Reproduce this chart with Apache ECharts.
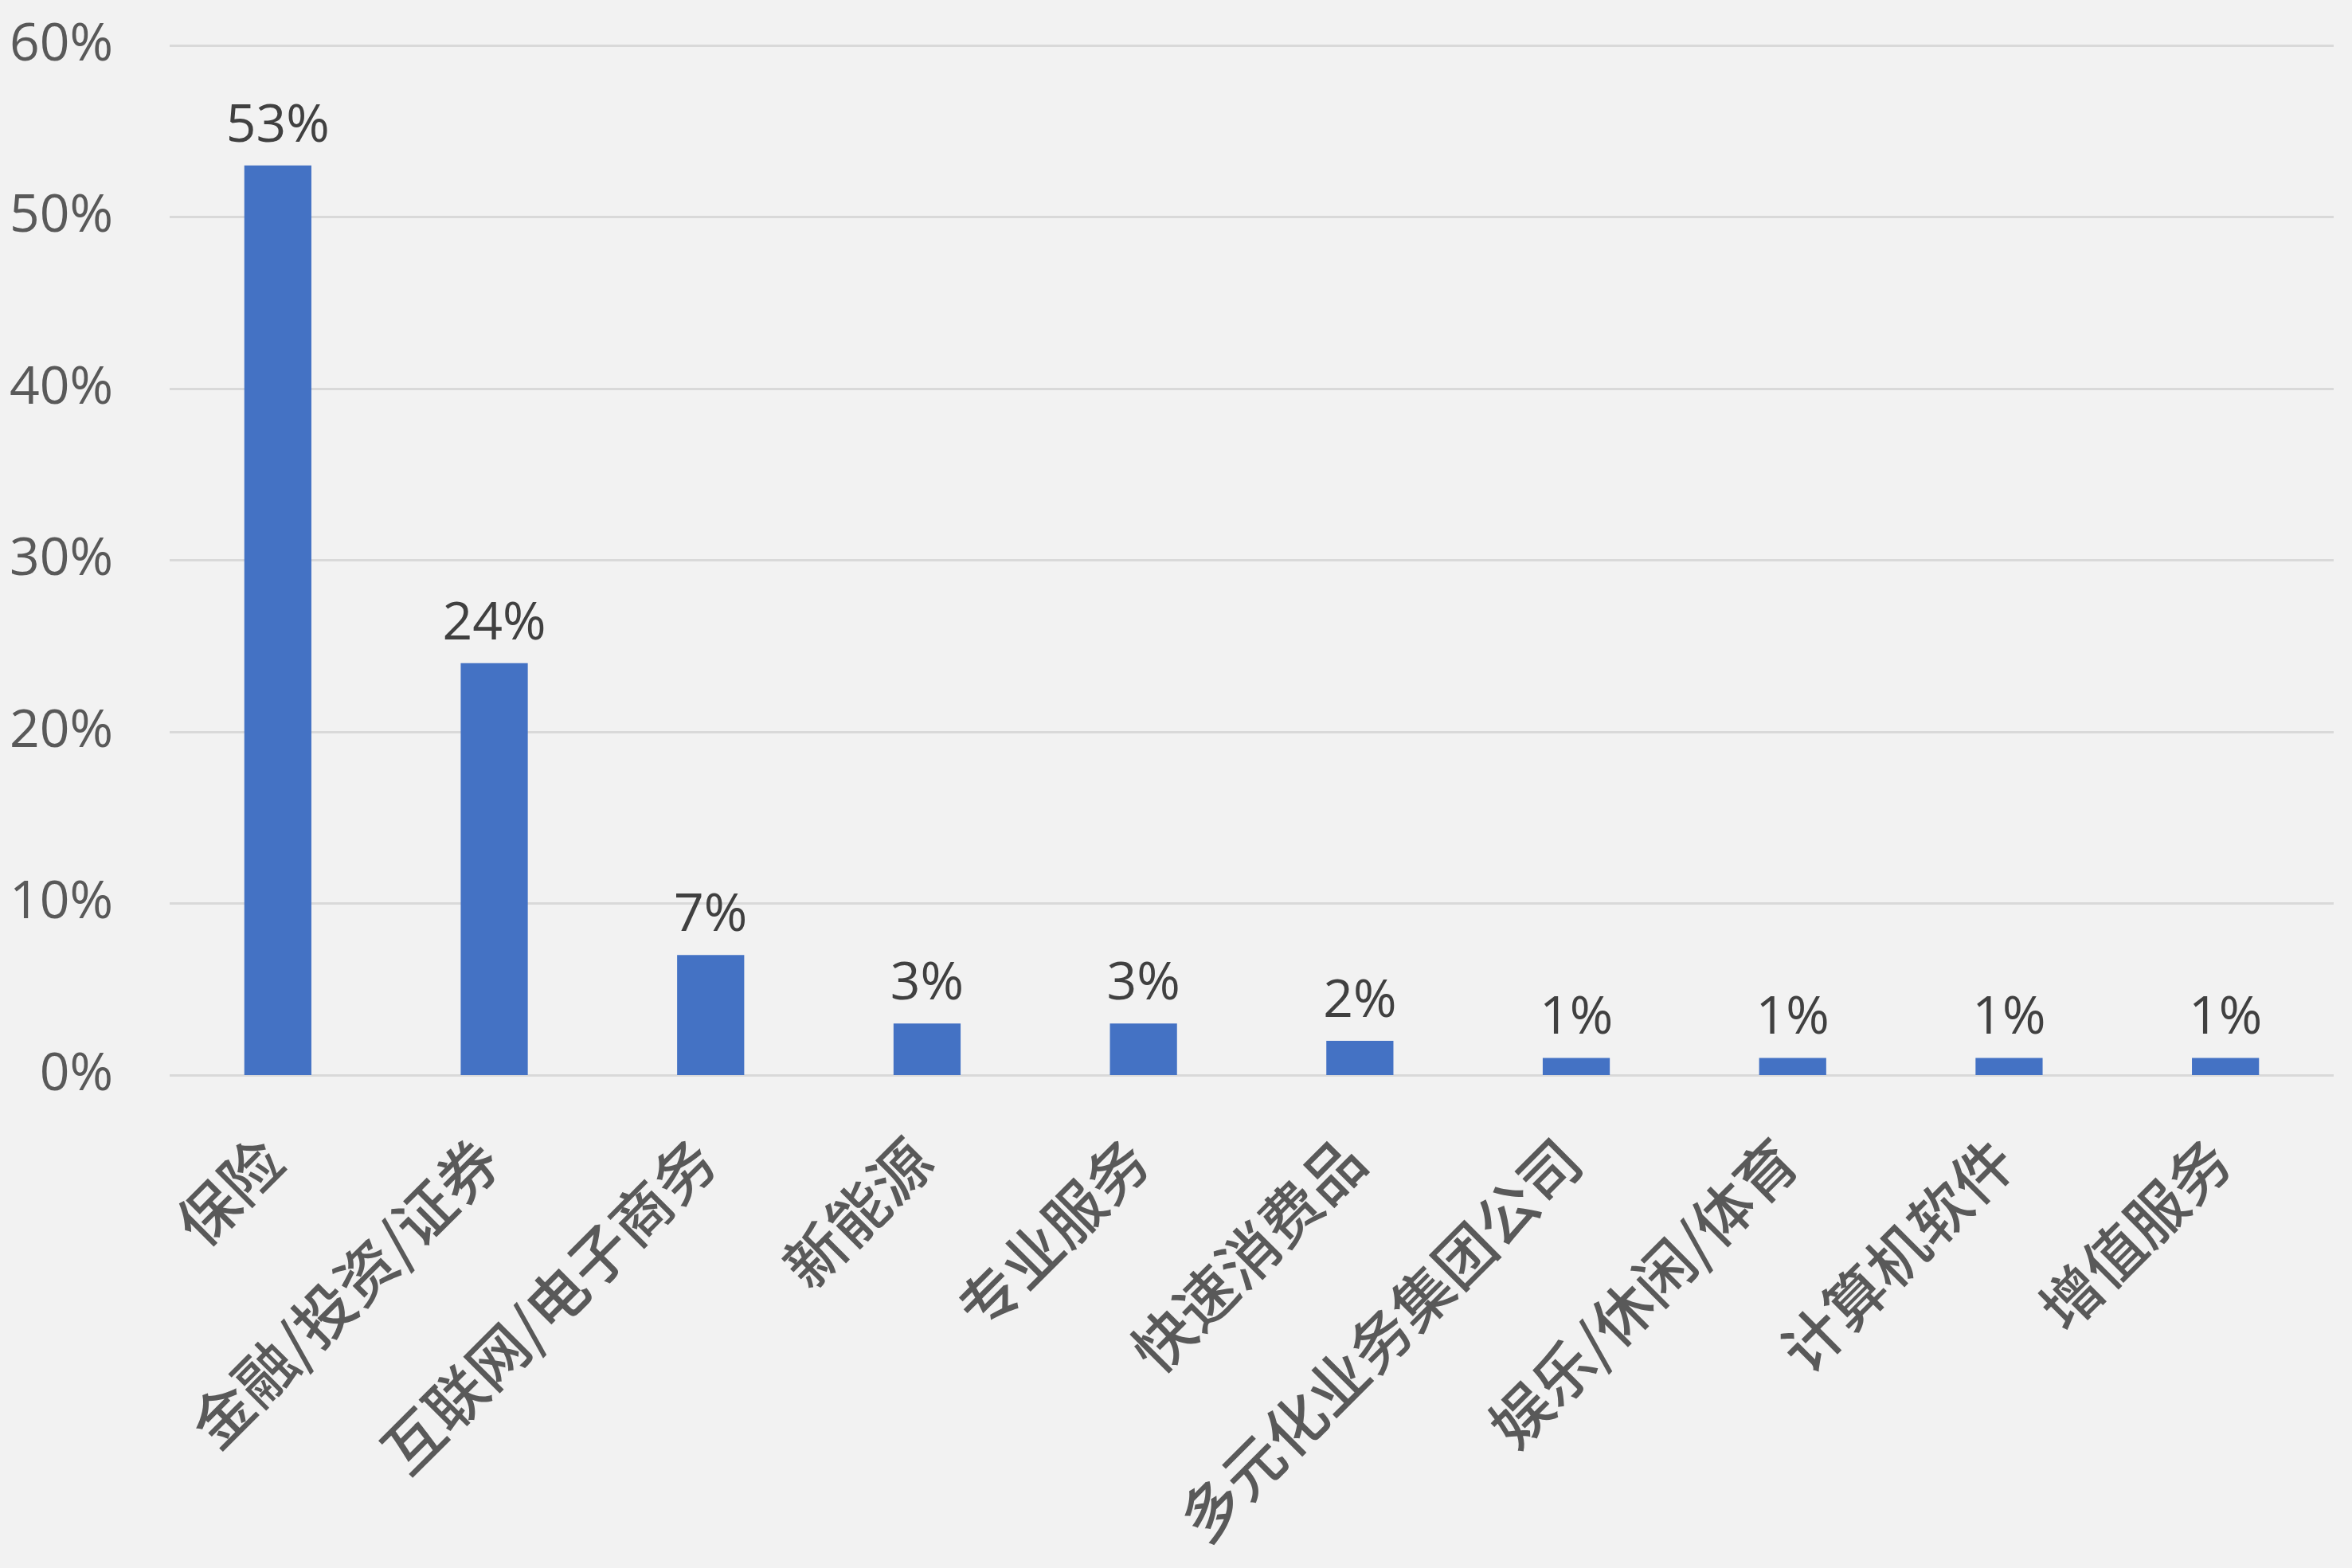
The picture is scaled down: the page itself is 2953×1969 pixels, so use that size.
<!DOCTYPE html>
<html><head><meta charset="utf-8">
<script src="https://cdn.jsdelivr.net/npm/echarts@6/dist/echarts.min.js"></script>
<style>html,body{margin:0;padding:0;background:#f2f2f2}#c{width:2953px;height:1969px}</style>
</head><body><div id="c"></div>
<script>
const categories = ['保险','金融/投资/证券','互联网/电子商务','新能源','专业服务','快速消费品','多元化业务集团公司','娱乐/休闲/体育','计算机软件','增值服务'];
const values = [53,24,7,3,3,2,1,1,1,1];
const yTicks = [0,10,20,30,40,50,60];

const chart = echarts.init(document.getElementById('c'));
chart.setOption({
  backgroundColor:'#f2f2f2',
  animation:false,
  grid:{left:213,right:23,top:57,bottom:619,containLabel:false},
  xAxis:{type:'category',data:categories,
    axisLine:{show:false},axisTick:{show:false},
    axisLabel:{rotate:45,interval:0,margin:86,color:'#595959',fontSize:75,fontWeight:500,
      fontFamily:'"Noto Sans CJK SC", "Open Sans", sans-serif',padding:[0,11,0,0]}},
  yAxis:{type:'value',min:yTicks[0],max:yTicks[yTicks.length-1],interval:10,
    axisLine:{show:false},axisTick:{show:false},
    splitLine:{lineStyle:{color:'#d9d9d9',width:3}},
    axisLabel:{formatter:v=>v+'%',color:'#595959',fontSize:66,margin:71,
      fontFamily:'"Open Sans", sans-serif'}},
  series:[{type:'bar',data:values,barWidth:'31%',
    itemStyle:{color:'#4472c4'},
    label:{show:true,position:'top',distance:16,formatter:p=>p.value+'%',
      color:'#404040',fontSize:66,fontFamily:'"Open Sans", sans-serif'}}]
});
</script></body></html>
